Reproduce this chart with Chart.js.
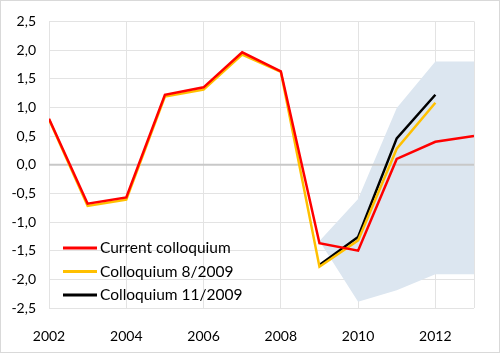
<!DOCTYPE html>
<html>
<head>
<meta charset="utf-8">
<script src="https://cdn.jsdelivr.net/npm/chart.js@4"></script>
<style>
body { margin: 0; background: #fff; }
#wrap { width: 500px; height: 353px; position: relative; }
</style>
</head>
<body>
<div id="wrap"><canvas id="myChart" width="500" height="353"></canvas></div>
<script>
var years = [2002, 2003, 2004, 2005, 2006, 2007, 2008, 2009, 2010, 2011, 2012, 2013];
var current = [0.8, -0.68, -0.57, 1.22, 1.35, 1.96, 1.63, -1.37, -1.5, 0.1, 0.4, 0.5];
var coll8 = [0.79, -0.72, -0.61, 1.19, 1.31, 1.92, 1.62, -1.78, -1.32, 0.28, 1.08, null];
var coll11 = [null, null, null, null, null, null, null, -1.75, -1.26, 0.46, 1.22, null];
var bandUpper = [null, null, null, null, null, null, null, -1.33, -0.6, 0.99, 1.8, 1.8];
var bandLower = [null, null, null, null, null, null, null, -1.33, -2.39, -2.19, -1.91, -1.91];
var yTicks = [-2.5, -2.0, -1.5, -1.0, -0.5, 0, 0.5, 1.0, 1.5, 2.0, 2.5];
var xTicks = [2002, 2004, 2006, 2008, 2010, 2012];
var legendLabels = ['Current colloquium', 'Colloquium 8/2009', 'Colloquium 11/2009'];
var legendColors = ['#ff0000', '#ffc000', '#000000'];

function pts(arr) {
    var out = [];
    for (var i = 0; i < years.length; i++) {
        if (arr[i] !== null) out.push({x: years[i], y: arr[i]});
    }
    return out;
}

var FONT = 'Lato';

var extras = {
    id: 'extras',
    // zero line goes over the band but under the lines (datasets draw from last index to first)
    beforeDatasetDraw: function (chart, args) {
        if (args.index !== 2) return;
        var ctx = chart.ctx;
        var y = chart.scales.y.getPixelForValue(0);
        ctx.save();
        ctx.strokeStyle = '#c8c8c8';
        ctx.lineWidth = 2;
        ctx.beginPath();
        ctx.moveTo(chart.chartArea.left, y);
        ctx.lineTo(chart.chartArea.right, y);
        ctx.stroke();
        ctx.restore();
    },
    afterDraw: function (chart) {
        var ctx = chart.ctx;
        ctx.save();
        ctx.font = '15.5px ' + FONT;
        ctx.textBaseline = 'middle';
        for (var i = 0; i < legendLabels.length; i++) {
            var y = 248 + i * 23.5;
            ctx.strokeStyle = legendColors[i];
            ctx.lineWidth = 3;
            ctx.beginPath();
            ctx.moveTo(63, y);
            ctx.lineTo(97, y);
            ctx.stroke();
            ctx.fillStyle = '#000';
            ctx.fillText(legendLabels[i], 100, y);
        }
        ctx.strokeStyle = '#d9d9d9';
        ctx.lineWidth = 1;
        ctx.strokeRect(0.5, 0.5, chart.width - 1, chart.height - 1);
        ctx.restore();
    }
};

var ctx = document.getElementById('myChart').getContext('2d');
var myChart = new Chart(ctx, {
    type: 'line',
    data: {
        datasets: [{
            label: legendLabels[0],
            data: pts(current),
            borderColor: legendColors[0],
            borderWidth: 2.5,
            pointRadius: 0
        }, {
            label: legendLabels[1],
            data: pts(coll8),
            borderColor: legendColors[1],
            borderWidth: 2.5,
            pointRadius: 0
        }, {
            label: legendLabels[2],
            data: pts(coll11),
            borderColor: legendColors[2],
            borderWidth: 2.5,
            pointRadius: 0
        }, {
            label: 'upper',
            data: pts(bandUpper),
            borderWidth: 0,
            pointRadius: 0,
            backgroundColor: '#dce6f0',
            fill: '+1'
        }, {
            label: 'lower',
            data: pts(bandLower),
            borderWidth: 0,
            pointRadius: 0,
            fill: false
        }]
    },
    options: {
        responsive: false,
        animation: false,
        layout: { padding: { left: 0, top: 20, right: 26, bottom: 0 } },
        plugins: { legend: { display: false }, tooltip: { enabled: false } },
        scales: {
            x: {
                type: 'linear',
                min: 2002,
                max: 2013,
                afterBuildTicks: function (axis) {
                    axis.ticks = xTicks.concat([2013]).map(function (v) { return {value: v}; });
                },
                afterFit: function (axis) { axis.height = 45; },
                ticks: {
                    autoSkip: false,
                    maxRotation: 0,
                    padding: 20,
                    color: '#000',
                    font: { family: FONT, size: 14 },
                    callback: function (v) { return v === 2013 ? '' : String(v); }
                },
                grid: { color: '#e3e3e3', lineWidth: 1, drawTicks: false },
                border: { display: false }
            },
            y: {
                min: -2.5,
                max: 2.5,
                afterBuildTicks: function (axis) {
                    axis.ticks = yTicks.map(function (v) { return {value: v}; });
                },
                afterFit: function (axis) { axis.width = 49; },
                ticks: {
                    padding: 13,
                    color: '#000',
                    font: { family: FONT, size: 14 },
                    callback: function (v) { return v.toFixed(1).replace('.', ','); }
                },
                grid: { color: '#e3e3e3', lineWidth: 1, drawTicks: false },
                border: { display: false }
            }
        }
    },
    plugins: [extras]
});
</script>
</body>
</html>
